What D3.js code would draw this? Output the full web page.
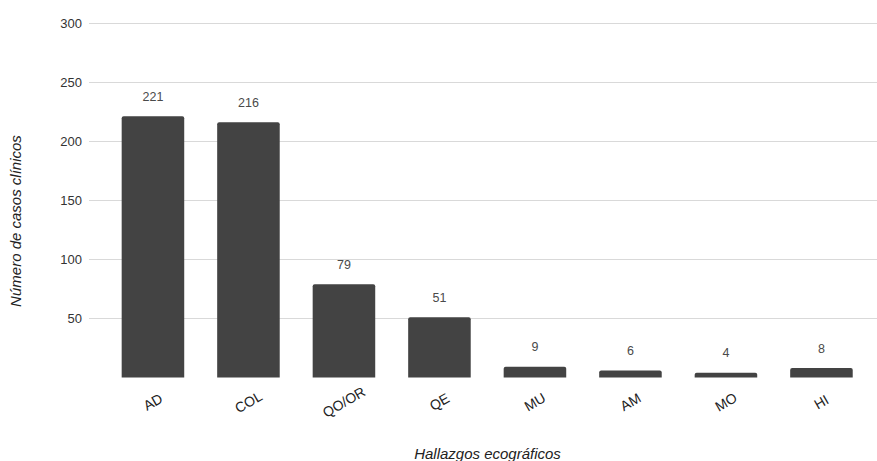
<!DOCTYPE html>
<html>
<head>
<meta charset="utf-8">
<script src="https://cdn.jsdelivr.net/npm/d3@7"></script>
<style>
  html, body { margin: 0; padding: 0; background: #fff; }
  svg { display: block; font-family: "Liberation Sans", Arial, sans-serif; }
</style>
</head>
<body>
<svg id="chart" width="877" height="461"></svg>
<script>
// Hallazgos ecográficos: número de casos clínicos por hallazgo
const categories = ["AD", "COL", "QO/OR", "QE", "MU", "AM", "MO", "HI"];
const casos = [221, 216, 79, 51, 9, 6, 4, 8];
const yTicks = [50, 100, 150, 200, 250, 300];

const svg = d3.select("#chart");
const gridLeft = 89, gridRight = 877;
const yTop = 23, yBottom = 377.5;

const y = d3.scaleLinear().domain([0, 300]).range([yBottom, yTop]);
const x = d3.scaleBand()
  .domain(categories)
  .range([105.2, 869.2])
  .paddingInner(0.345)
  .paddingOuter(0.1725);

// Horizontal gridlines
svg.append("g")
  .selectAll("line")
  .data(yTicks)
  .join("line")
  .attr("x1", gridLeft).attr("x2", gridRight)
  .attr("y1", d => Math.round(y(d)) + 0.5)
  .attr("y2", d => Math.round(y(d)) + 0.5)
  .attr("stroke", "#d9d9d9")
  .attr("stroke-width", 1);

// Y tick labels
svg.append("g")
  .selectAll("text")
  .data(yTicks)
  .join("text")
  .attr("x", 82)
  .attr("y", d => y(d) + 4.5)
  .attr("text-anchor", "end")
  .attr("font-size", 13)
  .attr("fill", "#333")
  .text(d => d);

// Bars with slightly rounded top corners
function barPath(x0, y0, w, h, r) {
  r = Math.min(r, h, w / 2);
  return `M${x0},${y0 + h}V${y0 + r}Q${x0},${y0} ${x0 + r},${y0}` +
         `H${x0 + w - r}Q${x0 + w},${y0} ${x0 + w},${y0 + r}V${y0 + h}Z`;
}

svg.append("g")
  .selectAll("path")
  .data(categories)
  .join("path")
  .attr("d", (c, i) => barPath(x(c), y(casos[i]), x.bandwidth(), yBottom - y(casos[i]), 2))
  .attr("fill", "#434343");

// Value labels above bars
svg.append("g")
  .selectAll("text")
  .data(categories)
  .join("text")
  .attr("x", c => x(c) + x.bandwidth() / 2)
  .attr("y", (c, i) => y(casos[i]) - 15.5)
  .attr("text-anchor", "middle")
  .attr("font-size", 12.5)
  .attr("fill", "#4a4a4a")
  .text((c, i) => casos[i]);

// Category labels, rotated
svg.append("g")
  .selectAll("text")
  .data(categories)
  .join("text")
  .attr("transform", c => `translate(${x(c) + x.bandwidth() / 2},${402}) rotate(-30)`)
  .attr("text-anchor", "middle")
  .attr("dy", "0.35em")
  .attr("font-size", 14)
  .attr("fill", "#222")
  .text(c => c);

// Axis titles
svg.append("text")
  .attr("transform", "translate(21,221) rotate(-90)")
  .attr("text-anchor", "middle")
  .attr("font-size", 15)
  .attr("font-style", "italic")
  .attr("fill", "#222")
  .text("Número de casos clínicos");

svg.append("text")
  .attr("x", 487.5)
  .attr("y", 459)
  .attr("text-anchor", "middle")
  .attr("font-size", 15)
  .attr("font-style", "italic")
  .attr("fill", "#222")
  .text("Hallazgos ecográficos");
</script>
</body>
</html>
